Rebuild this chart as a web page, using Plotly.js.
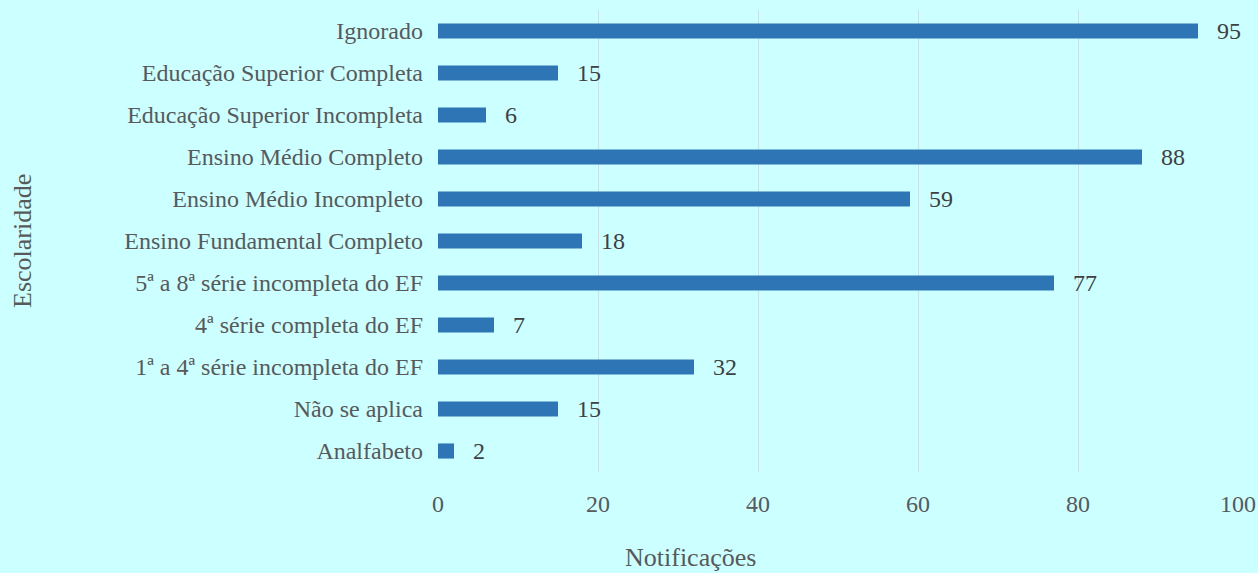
<!DOCTYPE html>
<html>
<head>
<meta charset="utf-8">
<script src="https://cdn.plot.ly/plotly-3.0.1.min.js"></script>
<style>html,body{margin:0;padding:0;background:#ccffff;}#chart{width:1258px;height:573px;}</style>
</head>
<body>
<div id="chart"></div>
<script>
const categories = [
  "Ignorado",
  "Educação Superior Completa",
  "Educação Superior Incompleta",
  "Ensino Médio Completo",
  "Ensino Médio Incompleto",
  "Ensino Fundamental Completo",
  "5ª a 8ª série incompleta do EF",
  "4ª série completa do EF",
  "1ª a 4ª série incompleta do EF",
  "Não se aplica",
  "Analfabeto"
];
const notificacoes = [95, 15, 6, 88, 59, 18, 77, 7, 32, 15, 2];
const xTicks = [0, 20, 40, 60, 80, 100];

const fontFam = "Liberation Serif";
const textColor = "#595959";

const trace = {
  type: "bar",
  orientation: "h",
  x: notificacoes,
  y: categories,
  marker: {color: "#2e75b6"},
  hoverinfo: "none"
};

const annotations = notificacoes.map((v, i) => ({
  x: v, y: categories[i], xref: "x", yref: "y",
  text: String(v), showarrow: false, xanchor: "left", xshift: 17,
  font: {family: fontFam, size: 24, color: "#404040"}
}));
annotations.push({
  text: "Notificações", xref: "paper", yref: "paper", x: 0.315, y: -0.185,
  xanchor: "center", yanchor: "middle", showarrow: false,
  font: {family: fontFam, size: 26, color: textColor}
});
annotations.push({
  text: "Escolaridade", xref: "paper", yref: "paper", x: -0.52, y: 0.5,
  xanchor: "center", yanchor: "middle", showarrow: false, textangle: -90,
  font: {family: fontFam, size: 26, color: textColor}
});

const layout = {
  width: 1258, height: 573,
  margin: {l: 438, r: 20, t: 10, b: 101},
  paper_bgcolor: "#ccffff",
  plot_bgcolor: "#ccffff",
  bargap: 0.64,
  showlegend: false,
  font: {family: fontFam, size: 24, color: textColor},
  xaxis: {
    range: [0, 100],
    tickvals: xTicks,
    ticktext: xTicks.map(String),
    showgrid: true, gridcolor: "#d9d9d9", gridwidth: 1,
    zeroline: false, showline: false,
    ticks: "", ticklabelstandoff: 15,
    tickfont: {family: fontFam, size: 24, color: textColor},
    fixedrange: true
  },
  yaxis: {
    type: "category",
    autorange: "reversed",
    showgrid: false, zeroline: false, showline: false,
    ticks: "", ticklabelstandoff: 14,
    tickfont: {family: fontFam, size: 24, color: textColor},
    fixedrange: true
  },
  annotations: annotations
};

Plotly.newPlot("chart", [trace], layout, {displayModeBar: false, staticPlot: true});
</script>
</body>
</html>
